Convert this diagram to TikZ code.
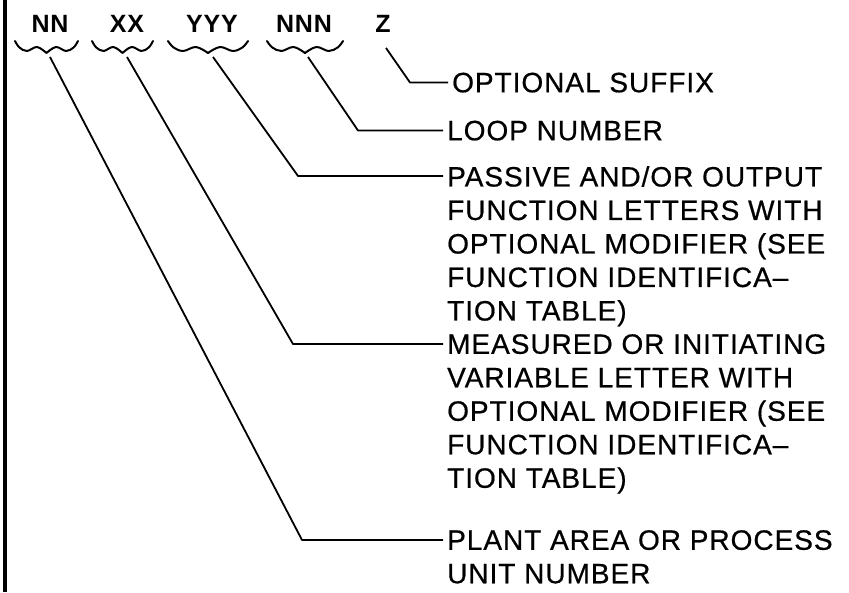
\documentclass[tikz,border=0pt]{standalone}
\usepackage{fontspec}
\setmainfont{Liberation Sans}
\newfontfamily\tagfont[LetterSpace=3]{Liberation Sans}
\newfontfamily\notefont[LetterSpace=3.5, FakeBold=0.6]{Liberation Sans}

\tikzset{
  wavy/.pic={
    \draw[brc] plot[smooth, tension=0.6] coordinates
      {(0,0) (0.07,-6.5) (0.19,-10) (0.35,-6) (0.5,-12)};
    \draw[brc] plot[smooth, tension=0.6] coordinates
      {(1,0) (0.93,-6.5) (0.81,-10) (0.65,-6) (0.5,-12)};
  }
}

\begin{document}
\begin{tikzpicture}[x=1pt, y=1pt,
    tag/.style={font=\tagfont\bfseries\fontsize{25}{30}\selectfont, inner sep=0pt, anchor=base},
    note/.style={font=\notefont\fontsize{28}{33.5}\selectfont, align=left,
      anchor=north west, inner xsep=4pt, inner ysep=0pt},
    brc/.style={line width=2pt, line cap=round, line join=round},
    lead/.style={line width=1.8pt, line join=round}]
  \useasboundingbox (0,0) rectangle (849,592);
  \draw[line width=3.5pt] (5,0) -- (5,592);
  % tag letters
  \node[tag] (nn) at (50,559) {NN};
  \node[tag] (xx) at (127,559) {XX};
  \node[tag] (yyy) at (212,559) {YYY};
  \node[tag] (nnn) at (304,559) {NNN};
  \node[tag] (z) at (383,559) {Z};
  % wavy braces under the tags
  \pic[xscale=63] at (15,551) {wavy};
  \pic[xscale=61] at (92,551) {wavy};
  \pic[xscale=80] at (168,551) {wavy};
  \pic[xscale=76] at (267,551) {wavy};
  \coordinate (nnt) at (50,535);
  \coordinate (xxt) at (127,535);
  \coordinate (yyyt) at (213,535);
  \coordinate (nnnt) at (308,535);
  \coordinate (zt) at (386,544);
  % notes
  \node[note] (suffix) at (448,519.5) {OPTIONAL SUFFIX};
  \node[note] (loop) at (443,471.5) {LOOP NUMBER};
  \node[note] (passive) at (443,426) {PASSIVE AND/OR OUTPUT\\FUNCTION LETTERS WITH\\OPTIONAL MODIFIER (SEE\\FUNCTION IDENTIFICA\textendash\\TION TABLE)};
  \node[note] (measured) at (443,258) {MEASURED OR INITIATING\\VARIABLE LETTER WITH\\OPTIONAL MODIFIER (SEE\\FUNCTION IDENTIFICA\textendash\\TION TABLE)};
  \node[note] (plant) at (443,62) {PLANT AREA OR PROCESS\\UNIT NUMBER};
  % leaders
  \draw[lead] (zt) -- ([xshift=-38pt, yshift=-10pt]suffix.north west) -- ([yshift=-10pt]suffix.north west);
  \draw[lead] (nnnt) -- ([xshift=-85pt, yshift=-10pt]loop.north west) -- ([yshift=-10pt]loop.north west);
  \draw[lead] (yyyt) -- ([xshift=-145pt, yshift=-10pt]passive.north west) -- ([yshift=-10pt]passive.north west);
  \draw[lead] (xxt) -- ([xshift=-150pt, yshift=-10pt]measured.north west) -- ([yshift=-10pt]measured.north west);
  \draw[lead] (nnt) -- ([xshift=-141pt, yshift=-10pt]plant.north west) -- ([yshift=-10pt]plant.north west);
\end{tikzpicture}
\end{document}
